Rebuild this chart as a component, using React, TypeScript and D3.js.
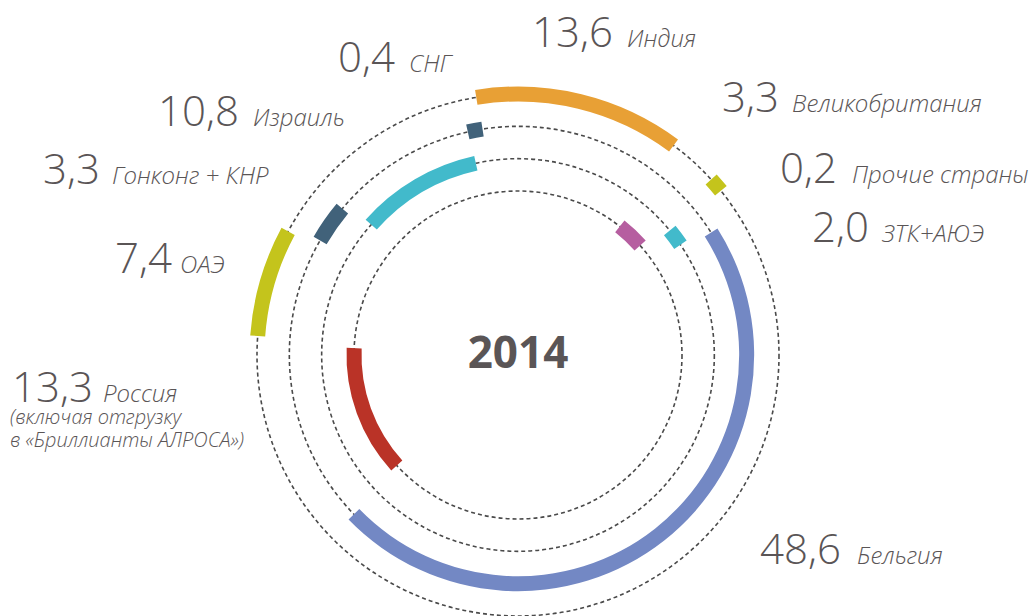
import * as React from 'react';
import * as d3 from 'd3';

// export destinations, % of sales, drawn clockwise around the rings
const countries = ['СНГ', 'Индия', 'Великобритания', 'Прочие страны', 'ЗТК+АЮЭ', 'Бельгия', 'Россия', 'ОАЭ', 'Гонконг + КНР', 'Израиль'];
const values = [0.4, 13.6, 3.3, 0.2, 2.0, 48.6, 13.3, 7.4, 3.3, 10.8];
const rings = [1, 0, 3, 0, 2, 1, 3, 0, 1, 2];
const colors = ['#41627a', '#e8a035', '#b65ea0', '#c4c41c', '#42bacb', '#7388c4', '#ba3327', '#c4c41c', '#41627a', '#42bacb'];
const year = '2014';
const russiaNote = ['(включая отгрузку', 'в «Бриллианты АЛРОСА»)'];

// where each label goes: [number x, baseline y, name x]
const labelPos = [
    [338, 72, 409], [532, 47, 627], [722, 112, 792], [780, 183, 852], [812, 242, 882],
    [760, 564, 857], [12, 402, 103], [115, 273, 180], [43, 184, 112], [158, 126, 253],
];

const W = 1032;
const H = 616;
const cx = 518;
const cy = 355;
const band = 15;
const minLen = 15;
const textColor = '#5a5556';

const ru = d3.formatLocale({ decimal: ',', thousands: ' ', grouping: [3], currency: ['', ''] });
const fmt = ru.format('.1f');

export default function App() {
    const ref = React.useRef<SVGSVGElement>(null);

    React.useEffect(() => {
        const svg = d3.select(ref.current);
        svg.selectAll('*').remove();

        const s0 = -11.5 * Math.PI / 180;
        const pad = 0.9 * Math.PI / 180;
        const angle = d3.scaleLinear()
            .domain([0, d3.sum(values)])
            .range([s0, s0 + 2 * Math.PI]);
        const radius = d3.scaleLinear()
            .domain([0, 3])
            .range([261, 164]);

        const g = svg.append('g')
            .attr('transform', `translate(${cx}, ${cy})`);

        g.selectAll('circle')
            .data(d3.range(4))
            .join('circle')
                .attr('r', d => radius(d))
                .attr('fill', 'none')
                .attr('stroke', '#4a4a4a')
                .attr('stroke-width', 1.6)
                .attr('stroke-dasharray', '4 3');

        const cum = [0, ...d3.cumsum(values)];
        const arc = d3.arc();
        const slices = values.map((v, i) => {
            const r = radius(rings[i]);
            let a0 = angle(cum[i]) + pad;
            let a1 = angle(cum[i + 1]) - pad;
            // tiny shares still get a small square so they stay visible
            if ((a1 - a0) * r < minLen) {
                const mid = (angle(cum[i]) + angle(cum[i + 1])) / 2;
                a0 = mid - minLen / 2 / r;
                a1 = mid + minLen / 2 / r;
            }
            return { innerRadius: r - band / 2, outerRadius: r + band / 2, startAngle: a0, endAngle: a1, color: colors[i] };
        });

        g.selectAll('path')
            .data(slices)
            .join('path')
                .attr('d', d => arc(d))
                .attr('fill', d => d.color);

        g.append('text')
            .attr('text-anchor', 'middle')
            .attr('y', 13)
            .attr('font-family', 'Open Sans')
            .attr('font-weight', 700)
            .attr('font-size', 44)
            .attr('fill', textColor)
            .text(year);

        const labels = svg.append('g')
            .attr('font-family', 'Open Sans')
            .attr('font-weight', 300)
            .attr('fill', textColor);

        countries.forEach((c, i) => {
            const [nx, by, tx] = labelPos[i];
            const t = labels.append('text')
                .attr('y', by);
            t.append('tspan')
                .attr('x', nx)
                .attr('font-size', 42)
                .text(fmt(values[i]));
            t.append('tspan')
                .attr('x', tx)
                .attr('font-size', 24)
                .attr('font-style', 'italic')
                .text(c);
            if (c === 'Россия') {
                russiaNote.forEach((line, j) => {
                    t.append('tspan')
                        .attr('x', nx - 2)
                        .attr('y', by + 22 + j * 23)
                        .attr('font-size', 20)
                        .attr('font-style', 'italic')
                        .text(line);
                });
            }
        });
    }, []);

    return (
        <svg ref={ref} width={W} height={H} style={{ position: 'absolute', left: 0, top: 0, background: '#fff' }} />
    );
}
